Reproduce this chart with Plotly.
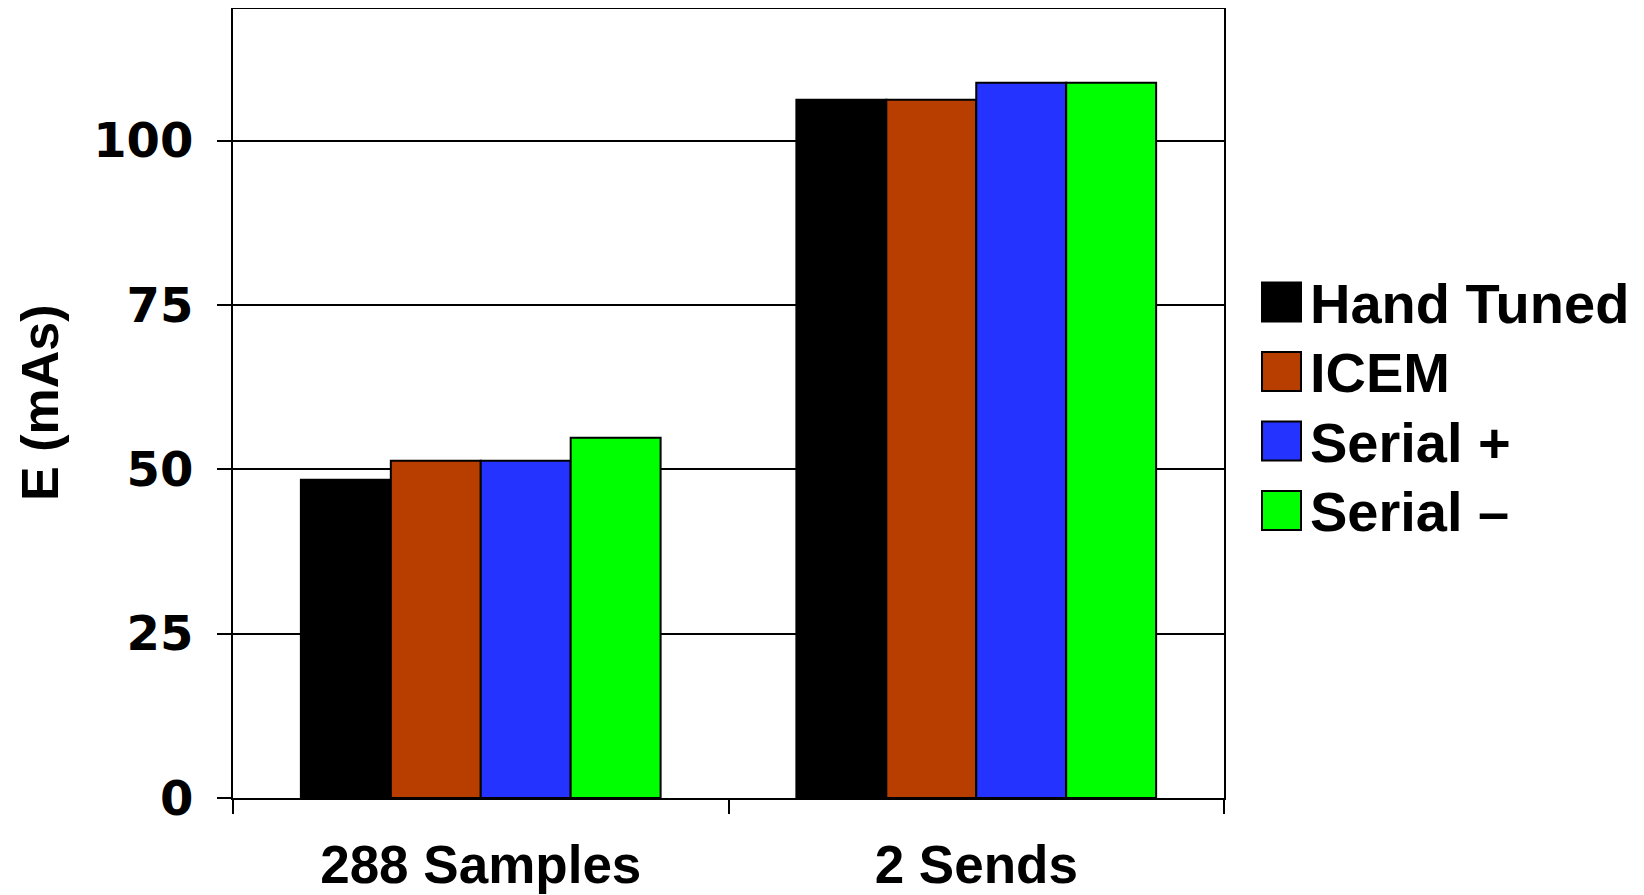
import plotly.graph_objects as go

# Data
categories = ["288 Samples", "2 Sends"]
series_names = ["Hand Tuned", "ICEM", "Serial +", "Serial \u2013"]
series_colors = ["#000000", "#b83e00", "#2433ff", "#00ff00"]
hand_tuned = [48.4, 106.2]
icem = [51.3, 106.2]
serial_plus = [51.3, 108.8]
serial_minus = [54.8, 108.8]
y_ticks = [0, 25, 50, 75, 100]

series_values = [hand_tuned, icem, serial_plus, serial_minus]

fig = go.Figure()
for name, color, vals in zip(series_names, series_colors, series_values):
    fig.add_trace(go.Bar(
        x=categories,
        y=vals,
        name=name,
        marker=dict(color=color, line=dict(color="black", width=2)),
        showlegend=False,
    ))

# page body has an 8px margin, so the figure is drawn 8px in from the corner
OX, OY = 8, 8
W, H = 1636, 887
m_l, m_r, m_t, m_b = 225, 420, 1, 97
pw = W - m_l - m_r
ph = H - m_t - m_b


def px_x(px):
    return (px - OX - m_l) / pw


def px_y(py):
    return (H - m_b - (py - OY)) / ph


# legend drawn by hand (plotly caps legend swatch size)
row_y0 = 302
row_step = 69.5
box = 39
for i, (name, color) in enumerate(zip(series_names, series_colors)):
    cy = row_y0 + i * row_step
    fig.add_shape(
        type="rect", xref="paper", yref="paper",
        x0=px_x(1262), x1=px_x(1262 + box),
        y0=px_y(cy + box / 2), y1=px_y(cy - box / 2),
        fillcolor=color, line=dict(color="black", width=2),
    )
    fig.add_annotation(
        x=px_x(1308), y=px_y(cy + 1), xref="paper", yref="paper",
        text=name, showarrow=False, xanchor="left", yanchor="middle",
        font=dict(family="Liberation Sans", size=56, color="black", weight="bold"),
    )

# y axis title
fig.add_annotation(
    x=px_x(40), y=px_y(403), xref="paper", yref="paper",
    text="E (mAs)", showarrow=False, textangle=-90,
    xanchor="center", yanchor="middle",
    font=dict(family="Liberation Sans", size=52, color="black", weight="bold"),
)

fig.update_layout(
    width=W, height=H,
    margin=dict(l=m_l, r=m_r, t=m_t, b=m_b, autoexpand=False),
    plot_bgcolor="white",
    paper_bgcolor="white",
    barmode="group",
    bargap=0.274,
    bargroupgap=0,
    showlegend=False,
    xaxis=dict(
        automargin=False,
        showline=True, linecolor="black", linewidth=2, mirror=True,
        ticks="outside", tickson="boundaries", ticklen=14, tickwidth=2, tickcolor="black",
        showgrid=False,
        tickfont=dict(family="Liberation Sans", size=53, color="black", weight="bold"),
        ticklabelstandoff=19,
    ),
    yaxis=dict(
        automargin=False,
        range=[0, 120],
        tickvals=y_ticks,
        showline=True, linecolor="black", linewidth=2, mirror=True,
        ticks="outside", ticklen=14, tickwidth=2, tickcolor="black",
        showgrid=True, gridcolor="black", gridwidth=2,
        zeroline=False,
        tickfont=dict(family="DejaVu Sans", size=48, color="black", weight="bold"),
        ticklabelstandoff=14,
    ),
)

fig.write_html("out.html")
